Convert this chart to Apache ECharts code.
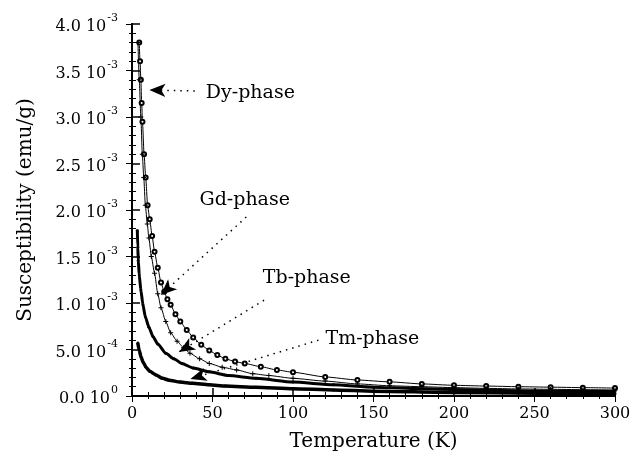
<!DOCTYPE html>
<html>
<head>
<meta charset="utf-8">
<script src="https://cdn.jsdelivr.net/npm/echarts@6/dist/echarts.min.js"></script>
<style>
  html, body { margin: 0; padding: 0; background: #fff; }
  #chart { width: 640px; height: 459px; }
</style>
</head>
<body>
<div id="chart"></div>
<script>
// susceptibility values in units of 1e-3 emu/g
const tempDy = [4.5, 5, 5.5, 6, 6.5, 7.5, 8.5, 9.7, 11, 12.5, 14, 16, 18, 20, 22, 24, 27, 30, 34, 38, 43, 48, 53, 58, 64, 70, 80, 90, 100, 120, 140, 160, 180, 200, 220, 240, 260, 280, 300]
const chiDy = [3.8, 3.6, 3.4, 3.15, 2.95, 2.6, 2.35, 2.05, 1.9, 1.72, 1.55, 1.38, 1.22, 1.12, 1.04, 0.98, 0.88, 0.8, 0.71, 0.63, 0.55, 0.49, 0.44, 0.4, 0.37, 0.35, 0.315, 0.28, 0.255, 0.205, 0.172, 0.152, 0.13, 0.115, 0.107, 0.1, 0.095, 0.09, 0.085]

const tempGd = [3.7, 4.5, 5.5, 6.4, 7.3, 8.3, 9.5, 10.5, 12, 14, 16, 18, 21, 24, 28, 32, 36, 42, 48, 56, 65, 75, 85, 100, 120, 140, 160, 180, 200, 220, 240, 260, 280, 300]
const chiGd = [3.8, 3.4, 3.0, 2.6, 2.35, 2.05, 1.85, 1.7, 1.5, 1.32, 1.1, 0.95, 0.8, 0.68, 0.59, 0.52, 0.46, 0.4, 0.35, 0.31, 0.28, 0.24, 0.22, 0.19, 0.16, 0.13, 0.11, 0.1, 0.09, 0.082, 0.076, 0.072, 0.068, 0.065]

const tempTb = [3.3, 3.6, 3.9, 4.5, 5.5, 6.8, 8.3, 10.5, 13, 16, 21, 26, 31, 38, 48, 60, 77, 100, 125, 150, 175, 200, 250, 300]
const chiTb = [1.78, 1.6, 1.46, 1.3, 1.14, 0.98, 0.85, 0.74, 0.64, 0.56, 0.46, 0.4, 0.35, 0.3, 0.26, 0.22, 0.19, 0.15, 0.12, 0.095, 0.08, 0.07, 0.055, 0.048]

const tempTm = [3.6, 4.5, 5.6, 7, 8.7, 11, 14.9, 19, 23, 30, 37.6, 48, 58, 77, 100, 125, 150, 200, 250, 300]
const chiTm = [0.57, 0.49, 0.42, 0.36, 0.31, 0.265, 0.226, 0.19, 0.17, 0.15, 0.136, 0.12, 0.107, 0.093, 0.078, 0.065, 0.052, 0.038, 0.03, 0.025]

// annotation labels and arrows (data coordinates)
const phaseNames = ['Dy-phase', 'Gd-phase', 'Tb-phase', 'Tm-phase']
const labelAt = [[73.5, 3.26], [70, 2.11], [108.6, 1.27], [149.3, 0.61]]
const arrowFrom = [[39, 3.28], [71, 1.925], [82, 1.03], [115.8, 0.6]]
const arrowTo = [[10.8, 3.29], [17.9, 1.086], [29.2, 0.473], [36.3, 0.183]]

const font = 'DejaVu Serif'
const zip = (xs, ys) => xs.map((x, i) => [x, ys[i]])
const plus = 'path://M-0.2,-1H0.2V-0.2H1V0.2H0.2V1H-0.2V0.2H-1V-0.2H-0.2Z'

const yLabel = (v) => {
  if (v === 0) return '{n|0.0 10}{s|0}'
  if (v < 1) return '{n|' + (v * 10).toFixed(1) + ' 10}{s|-4}'
  return '{n|' + v.toFixed(1) + ' 10}{s|-3}'
}

const chart = echarts.init(document.getElementById('chart'))

const frameLine = { show: true, lineStyle: { color: '#000', width: 2 } }

chart.setOption({
  animation: false,
  backgroundColor: '#fff',
  grid: { left: 132, right: 25, top: 24, bottom: 63, containLabel: false },
  xAxis: [
    {
      type: 'value', min: 0, max: 300, interval: 50,
      name: 'Temperature (K)', nameLocation: 'middle', nameGap: 36,
      nameTextStyle: { fontFamily: font, fontSize: 20, color: '#000' },
      axisLine: frameLine,
      axisTick: { inside: true, length: 8, lineStyle: { color: '#000', width: 1.5 } },
      minorTick: { show: true, splitNumber: 5, length: 4, lineStyle: { color: '#000' } },
      axisLabel: { fontFamily: font, fontSize: 16, color: '#000', margin: 10 },
      splitLine: { show: false },
    },
    {
      type: 'value', min: 0, max: 300, interval: 50, position: 'top',
      axisLine: frameLine,
      axisTick: { inside: true, length: 6, lineStyle: { color: '#000' } },
      minorTick: { show: true, splitNumber: 5, length: 3, lineStyle: { color: '#000' } },
      axisLabel: { show: false },
      splitLine: { show: false },
    },
  ],
  yAxis: [
    {
      type: 'value', min: 0, max: 4, interval: 0.5,
      name: 'Susceptibility (emu/g)', nameLocation: 'middle', nameGap: 96, nameRotate: 90,
      nameTextStyle: { fontFamily: font, fontSize: 20, color: '#000' },
      axisLine: frameLine,
      axisTick: { inside: true, length: 8, lineStyle: { color: '#000', width: 1.5 } },
      minorTick: { show: true, splitNumber: 5, length: 4, lineStyle: { color: '#000' } },
      axisLabel: {
        margin: 14,
        formatter: yLabel,
        rich: {
          n: { fontFamily: font, fontSize: 16, color: '#000', lineHeight: 22, verticalAlign: 'bottom' },
          s: { fontFamily: font, fontSize: 11, color: '#000', lineHeight: 22, verticalAlign: 'top', padding: [0, 0, 0, 1] },
        },
      },
      splitLine: { show: false },
    },
    {
      type: 'value', min: 0, max: 4, interval: 0.5, position: 'right',
      axisLine: frameLine,
      axisTick: { inside: true, length: 6, lineStyle: { color: '#000' } },
      minorTick: { show: true, splitNumber: 5, length: 3, lineStyle: { color: '#000' } },
      axisLabel: { show: false },
      splitLine: { show: false },
    },
  ],
  series: [
    {
      name: 'Dy', type: 'line', data: zip(tempDy, chiDy),
      symbol: 'emptyCircle', symbolSize: 4, smooth: 0.2, smoothMonotone: 'x',
      lineStyle: { color: '#000', width: 1 },
      itemStyle: { color: '#000', borderColor: '#000', borderWidth: 0.8 },
    },
    {
      name: 'Gd', type: 'line', data: zip(tempGd, chiGd),
      symbol: plus, symbolSize: 5, smooth: 0.2, smoothMonotone: 'x',
      lineStyle: { color: '#000', width: 1 },
      itemStyle: { color: '#000' },
    },
    {
      name: 'Tb', type: 'line', data: zip(tempTb, chiTb),
      symbol: 'circle', symbolSize: 3, smooth: 0.2, smoothMonotone: 'x',
      lineStyle: { color: '#000', width: 3 },
      itemStyle: { color: '#000' },
    },
    {
      name: 'Tm', type: 'line', data: zip(tempTm, chiTm),
      symbol: 'circle', symbolSize: 3, smooth: 0.2, smoothMonotone: 'x',
      lineStyle: { color: '#000', width: 3.5 },
      itemStyle: { color: '#000' },
    },
    {
      name: 'notes', type: 'line', data: [], silent: true,
      markLine: {
        silent: true, animation: false,
        symbol: ['none', 'arrow'], symbolSize: [10, 16],
        label: { show: false },
        lineStyle: { color: '#000', width: 1.5, type: [1.5, 5] },
        itemStyle: { color: '#000' },
        data: arrowFrom.map((p, i) => [{ coord: p }, { coord: arrowTo[i] }]),
      },
      markPoint: {
        silent: true, animation: false,
        symbol: 'circle', symbolSize: 1,
        itemStyle: { color: 'rgba(0,0,0,0)' },
        label: { show: true, position: 'inside', formatter: '{b}', fontFamily: font, fontSize: 19, color: '#000' },
        data: phaseNames.map((n, i) => ({ name: n, coord: labelAt[i] })),
      },
    },
  ],
})
</script>
</body>
</html>
